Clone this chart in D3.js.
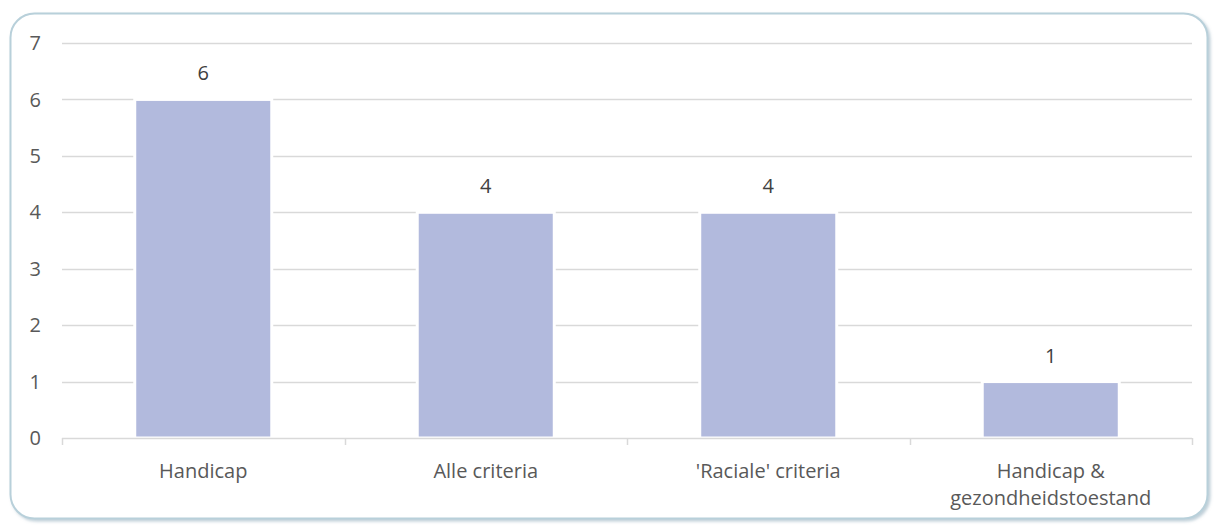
<!DOCTYPE html>
<html><head><meta charset="utf-8">
<script src="https://cdn.jsdelivr.net/npm/d3@7"></script>
<style>body{margin:0;background:#fff}svg{display:block}</style>
</head><body>
<script>
const categories = ["Handicap", "Alle criteria", "'Raciale' criteria", "Handicap & gezondheidstoestand"];
const labelLines = [["Handicap"], ["Alle criteria"], ["'Raciale' criteria"], ["Handicap &", "gezondheidstoestand"]];
const values = [6, 4, 4, 1];
const yTicks = [0, 1, 2, 3, 4, 5, 6, 7];

const W = 1218, H = 527;
const m = {left: 62, right: 26, top: 43, bottom: 89};
const svg = d3.select("body").append("svg").attr("width", W).attr("height", H);

svg.append("defs").append("filter").attr("id","sh")
  .append("feDropShadow").attr("dx",2).attr("dy",2).attr("stdDeviation",1.5).attr("flood-color","#7f9fb0").attr("flood-opacity",0.5);

svg.append("rect").attr("x",10.5).attr("y",13.5).attr("width",1197).attr("height",505)
  .attr("rx",24).attr("fill","#fff").attr("stroke","#b8d0da").attr("stroke-width",2).attr("filter","url(#sh)");

const x = d3.scaleBand().domain(categories).range([m.left, W - m.right]).paddingInner(0.515).paddingOuter(0.2575);
const xo = d3.scaleBand().domain(categories).range([m.left, W - m.right]);
const y = d3.scaleLinear().domain([0, 7]).range([H - m.bottom, m.top]);

const font = "'Open Sans', Calibri, sans-serif";
const fs = 20;

// gridlines
svg.append("g").selectAll("line").data(yTicks.filter(d => d > 0)).join("line")
  .attr("x1", m.left).attr("x2", W - m.right)
  .attr("y1", d => Math.round(y(d)) + 0.5).attr("y2", d => Math.round(y(d)) + 0.5)
  .attr("stroke", "#d9d9d9").attr("stroke-width", 1.5);

// y labels
svg.append("g").selectAll("text").data(yTicks).join("text")
  .attr("x", 41).attr("y", d => y(d)).attr("dy", "0.36em").attr("text-anchor", "end")
  .attr("font-family", font).attr("font-size", fs).attr("fill", "#595959").text(d => d);

// bars
svg.append("g").selectAll("rect").data(values).join("rect")
  .attr("x", (d, i) => x(categories[i])).attr("width", x.bandwidth())
  .attr("y", d => y(d)).attr("height", d => y(0) - y(d))
  .attr("fill", "#b2badd").attr("stroke", "#fff").attr("stroke-width", 3);

// x axis
const ax = svg.append("g");
ax.append("line").attr("x1", m.left).attr("x2", W - m.right)
  .attr("y1", Math.round(y(0)) + 0.5).attr("y2", Math.round(y(0)) + 0.5)
  .attr("stroke", "#d9d9d9").attr("stroke-width", 1.5);
const tickX = categories.map(c => xo(c)).concat([W - m.right]);
ax.selectAll("line.t").data(tickX).join("line").attr("class","t")
  .attr("x1", d => Math.round(d) + 0.5).attr("x2", d => Math.round(d) + 0.5)
  .attr("y1", y(0)).attr("y2", y(0) + 7).attr("stroke", "#d9d9d9").attr("stroke-width", 1.5);

// value labels
svg.append("g").selectAll("text").data(values).join("text")
  .attr("x", (d, i) => x(categories[i]) + x.bandwidth() / 2).attr("y", d => y(d) - 19)
  .attr("text-anchor", "middle").attr("font-family", font).attr("font-size", fs).attr("fill", "#404040").text(d => d);

// category labels
categories.forEach((c, i) => {
  const cx = xo(c) + xo.bandwidth() / 2;
  const t = svg.append("text").attr("x", cx).attr("y", 478)
    .attr("text-anchor", "middle").attr("font-family", font).attr("font-size", fs).attr("fill", "#595959");
  labelLines[i].forEach((l, j) => t.append("tspan").attr("x", cx).attr("dy", j ? 27 : 0).text(l));
});
</script>
</body></html>
